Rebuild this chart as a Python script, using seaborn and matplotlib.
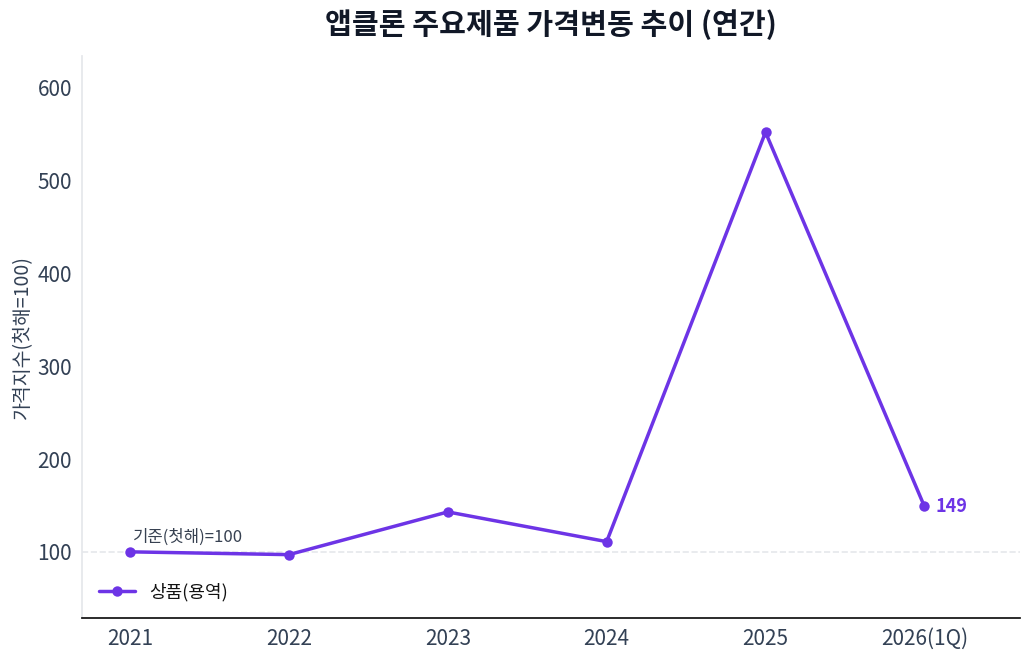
import matplotlib
matplotlib.use("Agg")
import matplotlib.pyplot as plt
import seaborn as sns
import pandas as pd

years = ["2021", "2022", "2023", "2024", "2025", "2026(1Q)"]
values = [100, 97, 143, 111, 552, 149]
series_name = "상품(용역)"
title = "앱클론 주요제품 가격변동 추이 (연간)"
ylabel = "가격지수(첫해=100)"
base_label = "기준(첫해)=100"

sns.set_theme(style="white")
plt.rcParams['font.family'] = ['Noto Sans CJK KR', 'DejaVu Sans']

color = "#6D34E6"
df = pd.DataFrame({"x": range(len(years)), "y": values, "s": series_name})

fig, ax = plt.subplots(figsize=(10.3, 6.6), dpi=100)
sns.lineplot(data=df, x="x", y="y", hue="s", palette=[color], marker="o",
             markersize=7.5, markeredgewidth=0, linewidth=2.5, ax=ax)

ax.axhline(100, color="#e5e7eb", linestyle="--", linewidth=1.2, zorder=0)
ax.set_xlim(-0.3, 5.6)
ax.set_ylim(29, 634)
ax.set_xticks(range(len(years)))
ax.set_xticklabels(years)
ax.set_yticks([100, 200, 300, 400, 500, 600])
ax.tick_params(axis="both", labelsize=15, colors="#334155", length=4)
ax.set_xlabel("")
ax.set_ylabel(ylabel, fontsize=14, color="#334155", labelpad=3)
ax.set_title(title, fontsize=21, fontweight="bold", color="#111827", pad=16)

for s in ["top", "right"]:
    ax.spines[s].set_visible(False)
ax.spines["left"].set_color("#e5e7eb")
ax.spines["bottom"].set_color("#111111")

ax.annotate(base_label, xy=(0, values[0]), xytext=(2, 4), textcoords="offset points",
            fontsize=12, color="#374151", ha="left", va="bottom")
ax.annotate(f"{values[-1]}", xy=(len(years) - 1, values[-1]), xytext=(8, 0),
            textcoords="offset points", fontsize=13, fontweight="bold",
            color=color, ha="left", va="center")

leg = ax.legend(loc="lower left", frameon=False, fontsize=13)
for t in leg.get_texts():
    t.set_color("#111111")

fig.subplots_adjust(left=0.08, right=0.99, top=0.915, bottom=0.064)
fig.savefig("out.png", dpi=100)
